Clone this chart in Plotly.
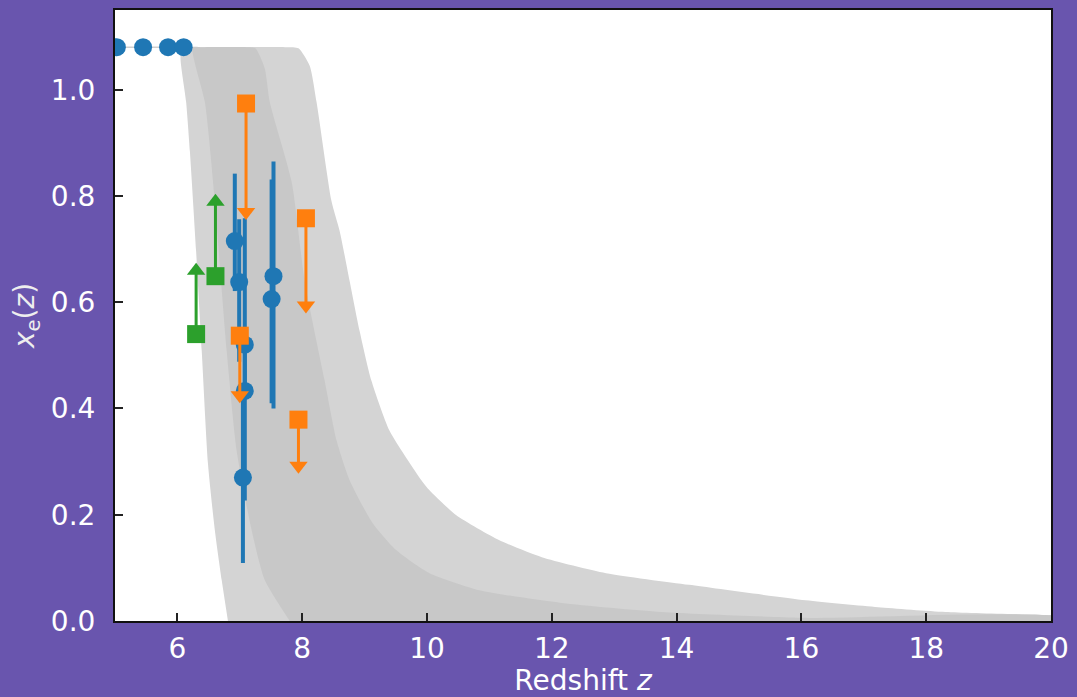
import plotly.graph_objects as go

# ---- Model bands: boundaries as (z, x_e) ----
outer_left_z = [6.81, 6.71, 6.60, 6.49, 6.39, 6.30, 6.20, 6.14, 6.05, 6.10, 6.30]
outer_left_xe = [0.0, 0.077, 0.171, 0.296, 0.508, 0.696, 0.884, 0.977, 1.062, 1.08, 1.08]
outer_right_z = [7.75, 7.94, 8.12, 8.23, 8.47, 8.60, 8.76, 8.92, 9.11, 9.40, 9.91, 10.04, 10.47,
                 11.16, 11.84, 12.87, 14.20, 16.07, 17.23, 18.31, 20.0, 20.5, 20.6]
outer_right_xe = [1.08, 1.078, 1.045, 0.977, 0.790, 0.734, 0.640, 0.546, 0.452, 0.358, 0.265, 0.246, 0.199,
                  0.152, 0.120, 0.090, 0.068, 0.039, 0.026, 0.017, 0.011, 0.009, -0.05]

inner_left_z = [7.80, 7.40, 7.19, 6.95, 6.79, 6.66, 6.60, 6.44, 6.28, 6.24, 6.40]
inner_left_xe = [0.0, 0.077, 0.171, 0.320, 0.508, 0.70, 0.790, 0.977, 1.05, 1.08, 1.08]
inner_right_z = [7.10, 7.25, 7.40, 7.48, 7.83, 8.04, 8.36, 8.55, 8.76, 9.13, 9.51, 10.04, 10.84,
                 12.16, 13.76, 16.0, 20.5, 20.6]
inner_right_xe = [1.08, 1.078, 1.04, 0.977, 0.827, 0.640, 0.452, 0.340, 0.265, 0.184, 0.133, 0.090, 0.058,
                  0.034, 0.017, 0.006, 0.001, -0.05]

# ---- Blue measurements ----
blue_top_z = [5.03, 5.45, 5.85, 6.10]
blue_top_xe = [1.08, 1.08, 1.08, 1.08]

blue_z = [6.92, 6.99, 7.08, 7.08, 7.05, 7.51, 7.54]
blue_xe = [0.715, 0.638, 0.520, 0.433, 0.270, 0.606, 0.649]
blue_err_up = [0.127, 0.118, 0.238, 0.10, 0.15, 0.225, 0.216]
blue_err_dn = [0.094, 0.15, 0.10, 0.206, 0.161, 0.196, 0.249]

# ---- Orange upper limits ----
orange_z = [7.10, 8.06, 7.00, 7.94]
orange_xe = [0.974, 0.758, 0.537, 0.379]
orange_lim_end = [0.770, 0.594, 0.425, 0.292]

# ---- Green lower limits ----
green_z = [6.30, 6.61]
green_xe = [0.540, 0.649]
green_lim_end = [0.659, 0.789]

x_ticks = [6, 8, 10, 12, 14, 16, 18, 20]
y_ticks = [0.0, 0.2, 0.4, 0.6, 0.8, 1.0]

BLUE = "#1f77b4"
ORANGE = "#ff7f0e"
GREEN = "#2ca02c"
PURPLE = "#6955ae"
FONT = "DejaVu Sans"
FS = 28

fig = go.Figure()

# outer band
fig.add_trace(go.Scatter(
    x=outer_left_z + outer_right_z, y=outer_left_xe + outer_right_xe,
    fill="toself", fillcolor="#d4d4d4", line=dict(width=0, shape="spline", smoothing=0.6),
    mode="lines", hoverinfo="skip", showlegend=False))
# inner band
fig.add_trace(go.Scatter(
    x=inner_left_z + inner_right_z, y=inner_left_xe + inner_right_xe,
    fill="toself", fillcolor="#c8c8c8", line=dict(width=0, shape="spline", smoothing=0.6),
    mode="lines", hoverinfo="skip", showlegend=False))

# top blue points
fig.add_trace(go.Scatter(
    x=blue_top_z, y=blue_top_xe, mode="lines+markers",
    line=dict(color="#cfcfcf", width=1.5),
    marker=dict(color=BLUE, size=18, symbol="circle"), showlegend=False))

# blue points with error bars
fig.add_trace(go.Scatter(
    x=blue_z, y=blue_xe, mode="markers",
    marker=dict(color=BLUE, size=18, symbol="circle"),
    error_y=dict(type="data", symmetric=False, array=blue_err_up, arrayminus=blue_err_dn,
                 color=BLUE, thickness=4, width=0),
    showlegend=False))

# orange upper limits
fig.add_trace(go.Scatter(
    x=orange_z, y=orange_xe, mode="markers",
    marker=dict(color=ORANGE, size=18, symbol="square"),
    error_y=dict(type="data", symmetric=False, array=[0] * len(orange_z),
                 arrayminus=[a - b for a, b in zip(orange_xe, orange_lim_end)],
                 color=ORANGE, thickness=3, width=0),
    showlegend=False))
fig.add_trace(go.Scatter(
    x=orange_z, y=orange_lim_end, mode="markers",
    marker=dict(color=ORANGE, size=16, symbol="triangle-down"), showlegend=False))

# green lower limits
fig.add_trace(go.Scatter(
    x=green_z, y=green_xe, mode="markers",
    marker=dict(color=GREEN, size=18, symbol="square"),
    error_y=dict(type="data", symmetric=False,
                 array=[b - a for a, b in zip(green_xe, green_lim_end)],
                 arrayminus=[0] * len(green_z),
                 color=GREEN, thickness=3, width=0),
    showlegend=False))
fig.add_trace(go.Scatter(
    x=green_z, y=green_lim_end, mode="markers",
    marker=dict(color=GREEN, size=16, symbol="triangle-up"), showlegend=False))

fig.update_layout(
    width=1077, height=697,
    paper_bgcolor=PURPLE, plot_bgcolor="white",
    margin=dict(l=115, r=24, t=8, b=76),
    font=dict(family=FONT, color="white", size=FS),
    showlegend=False,
)
fig.update_xaxes(
    range=[5, 20], tickvals=x_ticks, ticktext=[str(v) for v in x_ticks],
    ticks="inside", ticklen=8, tickwidth=1.5, tickcolor="#222222",
    showline=True, linecolor="#111111", linewidth=2, mirror=True,
    showgrid=False, zeroline=False,
    tickfont=dict(family=FONT, size=FS, color="white"),
    title=dict(text="Redshift <i>z</i>", font=dict(family=FONT, size=FS, color="white"), standoff=0),
    ticklabelstandoff=1,
)
fig.update_yaxes(
    range=[0, 1.15], tickvals=y_ticks, ticktext=[f"{v:.1f}" for v in y_ticks],
    ticks="inside", ticklen=8, tickwidth=1.5, tickcolor="#222222",
    showline=True, linecolor="#111111", linewidth=2, mirror=True,
    showgrid=False, zeroline=False,
    tickfont=dict(family=FONT, size=FS, color="white"),
    title=dict(text="<i>x</i><sub>e</sub>(<i>z</i>)", font=dict(family=FONT, size=FS, color="#eeeeee"), standoff=8),
    ticklabelstandoff=12,
)

fig.write_html("out.html", config={"displayModeBar": False},
               post_script="document.body.style.margin='0';document.body.style.overflow='hidden';")
